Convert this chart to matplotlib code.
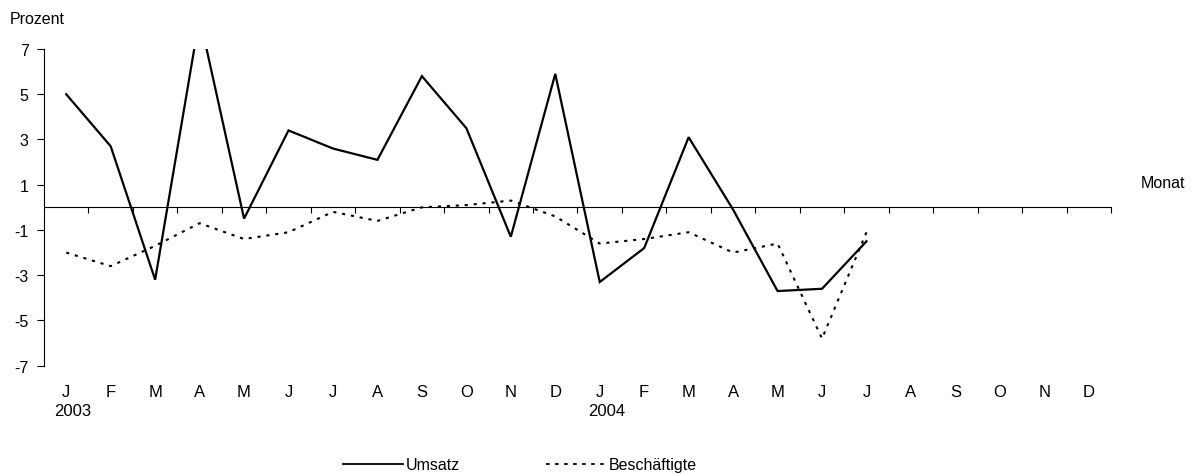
import matplotlib
matplotlib.use("Agg")
import matplotlib.pyplot as plt
from matplotlib.lines import Line2D

plt.rcParams['font.family'] = ['Liberation Sans', 'DejaVu Sans']

months = ["J", "F", "M", "A", "M", "J", "J", "A", "S", "O", "N", "D",
          "J", "F", "M", "A", "M", "J", "J", "A", "S", "O", "N", "D"]
years = ["2003", "2004"]
umsatz = [5.0, 2.7, -3.2, 8.4, -0.5, 3.4, 2.6, 2.1, 5.8, 3.5, -1.3, 5.9,
          -3.3, -1.8, 3.1, -0.1, -3.7, -3.6, -1.5]
beschaeftigte = [-2.0, -2.6, -1.7, -0.7, -1.4, -1.1, -0.2, -0.6, 0.0, 0.1, 0.3, -0.4,
                 -1.6, -1.4, -1.1, -2.0, -1.6, -5.8, -1.1]
yticks = [-7, -5, -3, -1, 1, 3, 5, 7]

W, H = 1201, 477
fig = plt.figure(figsize=(W / 100, H / 100), dpi=100)
ax = fig.add_axes([44 / W, 1 - 366.7 / H, (1111 - 44) / W, (366.7 - 50) / H])

x = list(range(len(umsatz)))
ax.plot(x, umsatz, color='black', lw=1.6, solid_joinstyle='miter')
ax.plot(list(range(len(beschaeftigte))), beschaeftigte, color='black', lw=1.5,
        linestyle=(0, (1.5, 2.8)))

ax.set_xlim(-0.5, len(months) - 0.5)
ax.set_ylim(-7, 7)

for s in ['top', 'right']:
    ax.spines[s].set_visible(False)
ax.spines['bottom'].set_position(('data', 0))
ax.spines['left'].set_linewidth(0.8)
ax.spines['bottom'].set_linewidth(0.8)

ax.set_yticks(yticks)
ax.set_yticklabels([str(v) for v in yticks], fontsize=11.5)
ax.tick_params(axis='y', direction='out', length=5, width=0.8, pad=6)

ax.set_xticks([i + 0.5 for i in range(len(months))])
ax.set_xticklabels([])
ax.tick_params(axis='x', direction='out', length=4, width=0.8)

tr = ax.get_xaxis_transform()
for i, m in enumerate(months):
    ax.text(i, -0.083, m, transform=tr, ha='center', va='center', fontsize=12)
for k, yr in enumerate(years):
    ax.text(k * 12 + 0.15, -0.14, yr, transform=tr, ha='center', va='center', fontsize=12)

fig.text(10 / W, 1 - 20 / H, "Prozent", ha='left', va='center', fontsize=11.5)
fig.text(1141 / W, 1 - 184 / H, "Monat", ha='left', va='center', fontsize=11.5)

handles = [Line2D([], [], color='black', lw=1.3),
           Line2D([], [], color='black', lw=1.3, linestyle=(0, (2, 3)))]
fig.legend(handles, ["Umsatz", "Beschäftigte"], loc='center',
           bbox_to_anchor=(520 / W, 1 - 466 / H), ncol=2, frameon=False,
           fontsize=11.5, handlelength=3.7, handletextpad=0.2, columnspacing=5.4,
           borderpad=0, borderaxespad=0)

fig.savefig("out.png", dpi=100)
